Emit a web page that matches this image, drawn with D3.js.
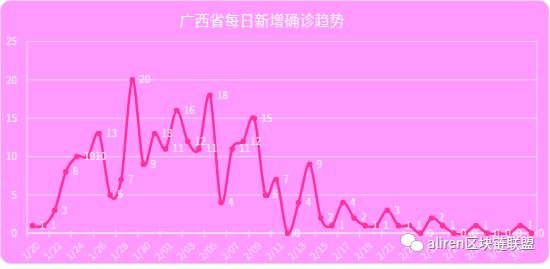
<!DOCTYPE html>
<html>
<head>
<meta charset="utf-8">
<script src="https://cdn.jsdelivr.net/npm/d3@7"></script>
<style>
  body { margin: 0; background: #ffffff; }
  text { font-family: "Noto Sans CJK SC", "Noto Sans", sans-serif; }
</style>
</head>
<body>
<div id="chart"></div>
<script>
// Daily new confirmed cases, Guangxi, 1/20 - 3/05
const dates = [
  "1/20","1/21","1/22","1/23","1/24","1/25","1/26","1/27","1/28","1/29","1/30","1/31",
  "2/01","2/02","2/03","2/04","2/05","2/06","2/07","2/08","2/09","2/10","2/11","2/12",
  "2/13","2/14","2/15","2/16","2/17","2/18","2/19","2/20","2/21","2/22","2/23","2/24",
  "2/25","2/26","2/27","2/28","2/29","3/01","3/02","3/03","3/04","3/05"
];
const newCases = [
  1, 1, 3, 8, 10, 10, 13, 5, 7, 20, 9, 13,
  11, 16, 12, 11, 18, 4, 11, 12, 15, 5, 7, 0,
  4, 9, 2, 1, 4, 2, 1, 1, 3, 1, 1, 0,
  2, 1, 0, 0, 1, 0, 0, 0, 1, 0
];
const yTicks = [0, 5, 10, 15, 20, 25];

const W = 550, H = 269;
const margin = { top: 41.5, right: 13, bottom: 35.7, left: 27 };
const width = W - margin.left - margin.right;
const height = H - margin.top - margin.bottom;

const root = d3.select("#chart").append("svg")
    .attr("width", W)
    .attr("height", H);

// card background
root.append("rect")
    .attr("x", 0.5).attr("y", 0.5)
    .attr("width", W - 1.5).attr("height", 263)
    .attr("rx", 10)
    .attr("fill", "#FF99FF")
    .attr("stroke", "#e6d0e6");

// title
root.append("text")
    .attr("x", 262).attr("y", 26)
    .attr("text-anchor", "middle")
    .attr("fill", "#ffffff")
    .attr("font-size", 15)
    .text("广西省每日新增确诊趋势");

const svg = root.append("g")
    .attr("transform", `translate(${margin.left}, ${margin.top})`);

const xScale = d3.scaleBand()
    .domain(dates)
    .range([0, width]);

const yScale = d3.scaleLinear()
    .domain([0, 25])
    .range([height, 0]);

const xc = d => xScale(d) + xScale.bandwidth() / 2;

// horizontal gridlines
svg.append("g")
    .selectAll("line")
    .data(yTicks)
    .enter()
    .append("line")
    .attr("x1", 0).attr("x2", width)
    .attr("y1", d => yScale(d)).attr("y2", d => yScale(d))
    .attr("stroke", "#FFDDFF")
    .attr("stroke-width", 1);

// plot area side borders
svg.append("line")
    .attr("x1", 0).attr("x2", 0).attr("y1", 0).attr("y2", height)
    .attr("stroke", "#FFDDFF");
svg.append("line")
    .attr("x1", width).attr("x2", width).attr("y1", 0).attr("y2", height)
    .attr("stroke", "#FFDDFF");

// y axis labels
const yAxis = d3.axisLeft(yScale)
    .tickValues(yTicks)
    .tickSize(0)
    .tickPadding(10);

svg.append("g")
    .call(yAxis)
    .call(g => g.select(".domain").remove())
    .call(g => g.selectAll("text")
        .attr("fill", "#ffffff")
        .attr("font-size", 10));

// x axis: ticks between every 2 categories, labels on even categories
const tickDates = dates.filter((d, i) => i % 2 === 0);
const xAxisG = svg.append("g")
    .attr("transform", `translate(0, ${height})`);

xAxisG.append("line")
    .attr("x1", 0).attr("x2", width)
    .attr("stroke", "#FFE6FF")
    .attr("stroke-width", 1.5);

xAxisG.selectAll(".tick-mark")
    .data(tickDates.concat(["__end"]))
    .enter()
    .append("line")
    .attr("class", "tick-mark")
    .attr("x1", d => d === "__end" ? width : xScale(d))
    .attr("x2", d => d === "__end" ? width : xScale(d))
    .attr("y1", -3).attr("y2", 4)
    .attr("stroke", "#FFE6FF");

xAxisG.selectAll(".tick-label")
    .data(tickDates)
    .enter()
    .append("text")
    .attr("class", "tick-label")
    .attr("transform", d => `translate(${xc(d) + 3}, 8) rotate(-45)`)
    .attr("text-anchor", "end")
    .attr("dy", "0.7em")
    .attr("fill", "#FFE6FF")
    .attr("font-size", 10)
    .text(d => d);

// smoothed line
const line = d3.line()
    .x((d, i) => xc(dates[i]))
    .y(d => yScale(d))
    .curve(d3.curveCardinal.tension(0));

svg.append("path")
    .datum(newCases)
    .attr("fill", "none")
    .attr("stroke", "#FF3399")
    .attr("stroke-width", 2.6)
    .attr("d", line);

svg.selectAll(".dot")
    .data(newCases)
    .enter()
    .append("circle")
    .attr("class", "dot")
    .attr("cx", (d, i) => xc(dates[i]))
    .attr("cy", d => yScale(d))
    .attr("r", 2.8)
    .attr("fill", "#FF3399");

// data labels
svg.selectAll(".val")
    .data(newCases)
    .enter()
    .append("text")
    .attr("class", "val")
    .attr("x", (d, i) => xc(dates[i]) + 7)
    .attr("y", d => yScale(d))
    .attr("dy", "0.35em")
    .attr("fill", "#ffffff")
    .attr("font-size", 10)
    .text(d => d);

// watermark
const wm = root.append("g").attr("transform", "translate(400, 234)");
wm.append("ellipse").attr("cx", 8).attr("cy", 6).attr("rx", 7.5).attr("ry", 6.5)
    .attr("fill", "#ffffff").attr("stroke", "#999999").attr("stroke-width", 0.8);
wm.append("ellipse").attr("cx", 17).attr("cy", 12).attr("rx", 6.5).attr("ry", 5.5)
    .attr("fill", "#ffffff").attr("stroke", "#999999").attr("stroke-width", 0.8);
wm.append("text")
    .attr("x", 28).attr("y", 15)
    .attr("fill", "#777777")
    .attr("font-size", 14)
    .text("aliren区块链联盟")
    .clone(true)
    .attr("x", 27).attr("y", 14)
    .attr("fill", "#ffffff");
</script>
</body>
</html>
